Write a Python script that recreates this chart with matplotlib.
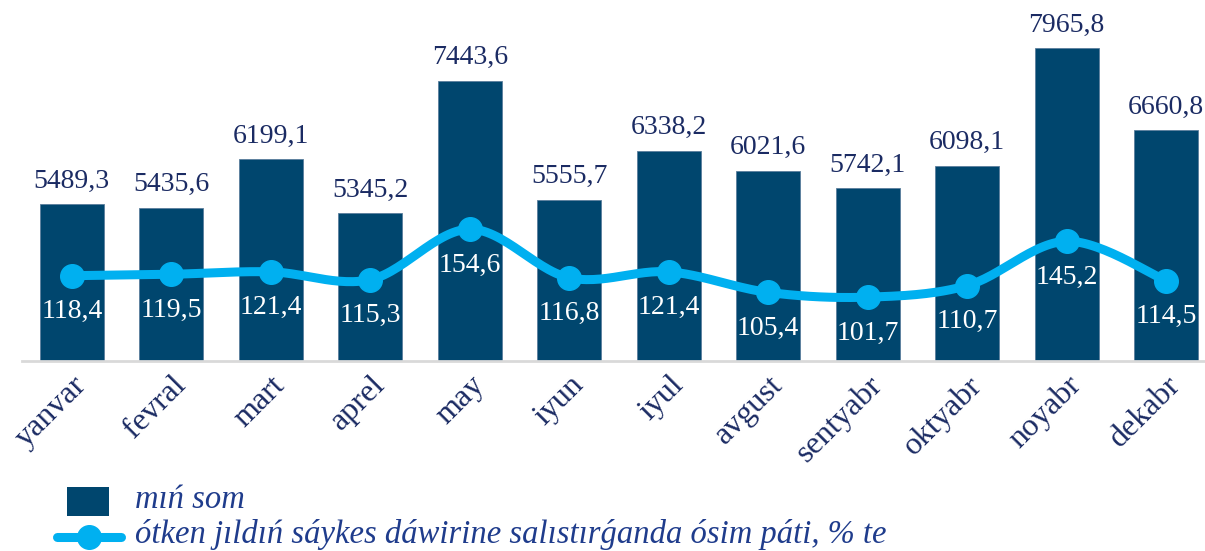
import numpy as np
import matplotlib.pyplot as plt
from matplotlib.lines import Line2D
from matplotlib.patches import Rectangle

months = ['yanvar', 'fevral', 'mart', 'aprel', 'may', 'iyun', 'iyul',
          'avgust', 'sentyabr', 'oktyabr', 'noyabr', 'dekabr']
volume = [5489.3, 5435.6, 6199.1, 5345.2, 7443.6, 5555.7, 6338.2,
          6021.6, 5742.1, 6098.1, 7965.8, 6660.8]
growth = [118.4, 119.5, 121.4, 115.3, 154.6, 116.8, 121.4,
          105.4, 101.7, 110.7, 145.2, 114.5]

bar_color = '#00466E'
line_color = '#00B0F0'
text_color = '#1B2B63'
legend_color = '#1F3C8C'
serif = 'Liberation Serif'

W, H = 1205, 551


def fmt(v):
    return '{:.1f}'.format(v).replace('.', ',')


def smooth(x, y, n=30):
    # catmull-rom style smoothing, like the spreadsheet "smoothed line"
    x = np.asarray(x, float)
    y = np.asarray(y, float)
    px = np.concatenate([[x[0]], x, [x[-1]]])
    py = np.concatenate([[y[0]], y, [y[-1]]])
    xs, ys = [], []
    for i in range(1, len(px) - 2):
        p0, p1, p2, p3 = [np.array([px[j], py[j]]) for j in (i - 1, i, i + 1, i + 2)]
        c1 = p1 + (p2 - p0) / 6
        c2 = p2 - (p3 - p1) / 6
        t = np.linspace(0, 1, n)[:, None]
        pts = (1 - t) ** 3 * p1 + 3 * (1 - t) ** 2 * t * c1 + 3 * (1 - t) * t ** 2 * c2 + t ** 3 * p2
        xs.extend(pts[:, 0])
        ys.extend(pts[:, 1])
    return np.array(xs), np.array(ys)


fig = plt.figure(figsize=(W / 100, H / 100), dpi=100)
ax = fig.add_axes([22 / W, 1 - 361 / H, 1183 / W, 361 / H])
x = np.arange(len(months))

ax.bar(x, volume, width=0.64, color=bar_color, edgecolor='#5A7E9C', linewidth=0.6, zorder=2)
ax.set_ylim(3000, 8730)
ax.set_xlim(-0.5, 11.39)
for xi, v in zip(x, volume):
    ax.text(xi, v + 170, fmt(v), ha='center', va='bottom', fontsize=20,
            family=serif, color=text_color)

ax2 = ax.twinx()
sx, sy = smooth(x, growth)
ax2.plot(sx, sy, color=line_color, linewidth=6.5, solid_capstyle='round', zorder=3)
ax2.plot(x, growth, 'o', color=line_color, markersize=17, zorder=4)
ax2.set_ylim(52, 333)
for xi, g in zip(x, growth):
    ax2.text(xi, g - 28, fmt(g), ha='center', va='center', fontsize=20,
             family=serif, color='white', zorder=5)

for a in (ax, ax2):
    for s in a.spines.values():
        s.set_visible(False)
    a.set_yticks([])
ax.spines['bottom'].set_visible(True)
ax.spines['bottom'].set_color('#D9D9D9')
ax.spines['bottom'].set_linewidth(2)

ax.set_xticks(x)
ax.set_xticklabels(months, rotation=45, ha='right', rotation_mode='anchor',
                   fontsize=23, family=serif, color=text_color)
ax.tick_params(axis='x', length=0, pad=7)

# legend drawn by hand so the patch and line keys match the reference sizes
fig.patches.append(Rectangle((67 / W, 1 - 516 / H), 42 / W, 29 / H, transform=fig.transFigure,
                             facecolor=bar_color, edgecolor='none'))
ly = 1 - 537 / H
fig.lines.append(Line2D([57 / W, 121 / W], [ly, ly], transform=fig.transFigure,
                        color=line_color, linewidth=6.5, solid_capstyle='round'))
fig.lines.append(Line2D([89 / W], [ly], transform=fig.transFigure, color=line_color,
                        marker='o', markersize=17, linestyle='none'))
legend_font = {'family': serif, 'style': 'italic', 'size': 23.5}
fig.text(135 / W, 1 - 500 / H, 'mıń som', ha='left', va='center', color=legend_color, **legend_font)
fig.text(135 / W, ly + 2 / H, 'ótken jıldıń sáykes dáwirine salıstırǵanda ósim páti, % te',
         ha='left', va='center', color=legend_color, **legend_font)

fig.savefig('out.png', dpi=100)
